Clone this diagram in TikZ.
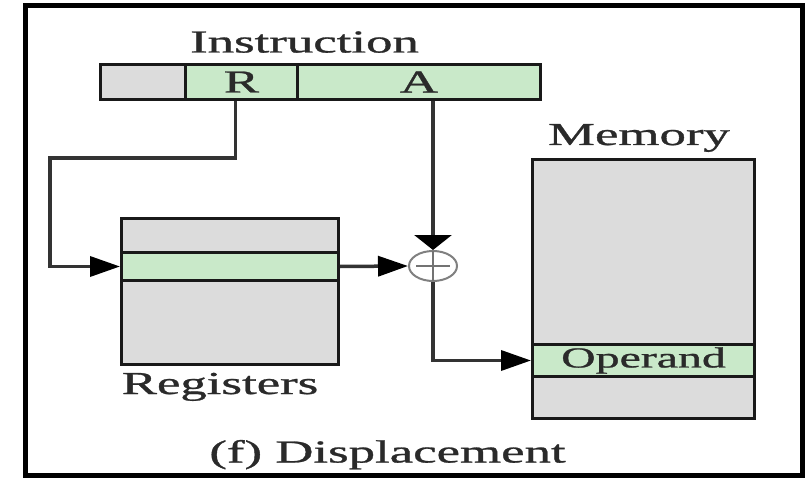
\documentclass[tikz,border=0pt]{standalone}
\usepackage{fontspec}
\setmainfont{Liberation Serif}
\newfontfamily\heavyserif[FakeBold=0.8]{Liberation Serif}
\usetikzlibrary{arrows.meta,shapes.geometric}
\definecolor{boxgray}{HTML}{DCDCDC}
\definecolor{boxgreen}{HTML}{C9E9C9}
\definecolor{linedark}{HTML}{333333}
\definecolor{txt}{HTML}{2A2A2A}
\newcommand\widetext[1]{\scalebox{1.65}[1]{#1}}
\begin{document}
\begin{tikzpicture}[x=1pt,y=-1pt,
  cell/.style={draw=black!90,line width=3pt,inner sep=0pt,anchor=north west,
    text=txt,font=\heavyserif\fontsize{32}{32}\selectfont},
  graycell/.style={cell,fill=boxgray},
  greencell/.style={cell,fill=boxgreen},
  conn/.style={draw=linedark,line width=3.5pt},
  harrow/.style={-{Triangle[length=30pt,width=20pt,color=black]}},
  varrow/.style={-{Triangle[length=15pt,width=37pt,color=black]}},
  lbl/.style={font=\heavyserif\fontsize{32}{32}\selectfont,text=txt,inner sep=0pt,anchor=base},
  sumnode/.style={ellipse,draw=black!50,line width=2pt,inner sep=0pt,
    minimum width=48pt,minimum height=30pt},
  plusline/.style={draw=black!55,line width=1.8pt}]
\useasboundingbox (0,0) rectangle (810,478);
\fill[white] (0,0) rectangle (810,478);
% outer frame
\draw[line width=5pt,black] (25,5.5) rectangle (802,475);

% instruction
\node[lbl] (tinstr) at (304.5,52.5) {\widetext{Instruction}};
\node[graycell,minimum width=85pt,minimum height=35pt] (opf) at (99,63) {};
\node[greencell,minimum width=112pt,minimum height=35pt] (rf) at (184,63) {\widetext{R}};
\node[greencell,minimum width=243pt,minimum height=35pt] (af) at (296,63) {\widetext{A}};

% registers
\node[graycell,minimum width=217pt,minimum height=34pt] (reg1) at (120,217) {};
\node[graycell,minimum width=217pt,minimum height=84pt] (reg3) at (120,279) {};
\node[greencell,minimum width=217pt,minimum height=28pt] (reg2) at (120,251) {};
\node[lbl] (treg) at (220,394) {\widetext{Registers}};

% memory
\node[lbl] (tmem) at (639,145) {\widetext{Memory}};
\node[graycell,minimum width=222pt,minimum height=185pt] (mem1) at (531,158) {};
\node[graycell,minimum width=222pt,minimum height=42pt] (mem3) at (531,375) {};
\node[greencell,minimum width=222pt,minimum height=32pt,font=\heavyserif\fontsize{29}{29}\selectfont] (mem2) at (531,343) {\widetext{Operand}};

% adder
\node[sumnode] (sum) at (433,266) {};
\draw[plusline] ([xshift=8pt]sum.west) -- ([xshift=-8pt]sum.east)
                ([yshift=-1pt]sum.north) -- ([yshift=1pt]sum.south);

% connectors
\coordinate (lb) at (50,158);
\draw[conn,harrow] ([xshift=-6pt]rf.south) |- (lb) |- (reg2.west);
\draw[conn,varrow] (af.south -| sum.north) -- (sum.north);
\draw[conn,harrow] (reg2.east) -- (sum.west);
\draw[conn,harrow] (sum.south) |- (mem2.west);

\node[lbl] (tdisp) at (387.5,462.5) {\widetext{(f) Displacement}};
\end{tikzpicture}
\end{document}
